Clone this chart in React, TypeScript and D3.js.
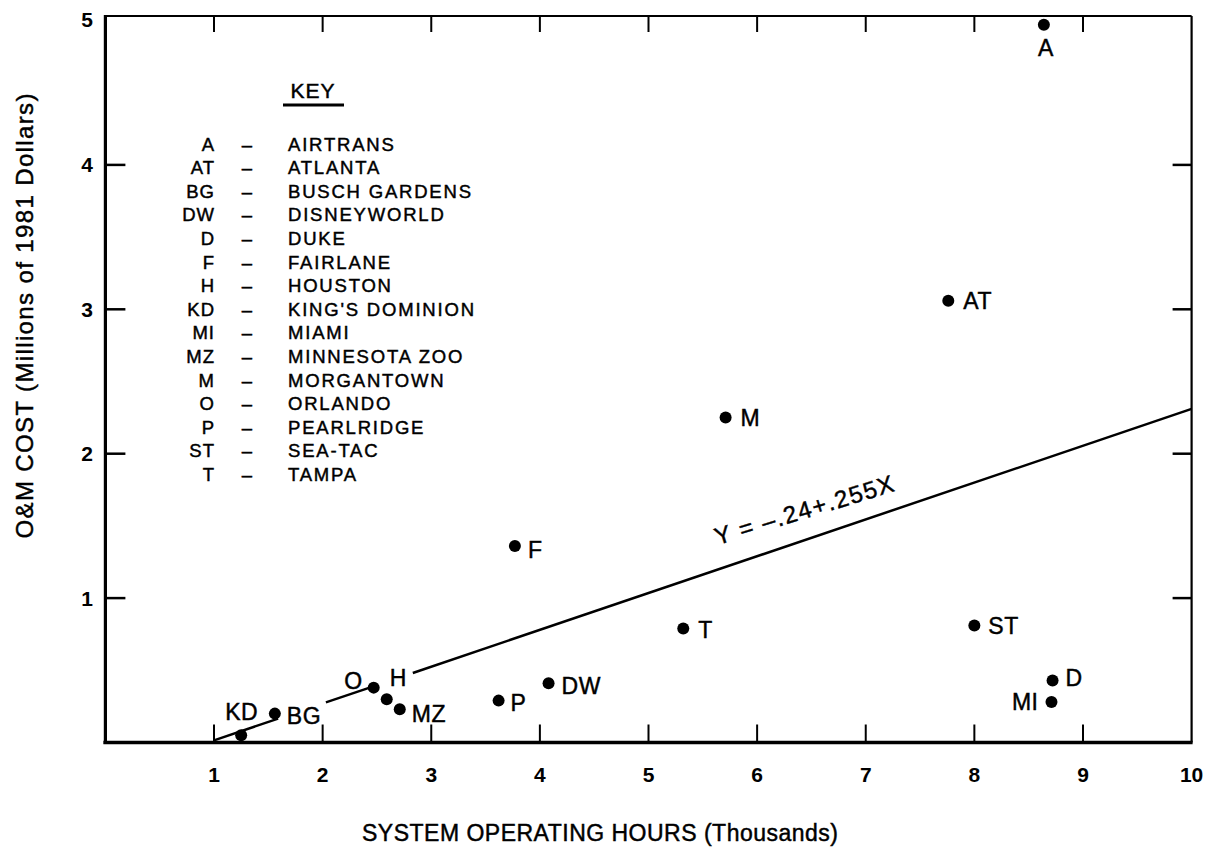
import React from 'react';
import * as d3 from 'd3';

// ---- Data ----
const siteCodes = ['A', 'AT', 'BG', 'DW', 'D', 'F', 'H', 'KD', 'MI', 'MZ', 'M', 'O', 'P', 'ST', 'T'];
const siteNames = ['AIRTRANS', 'ATLANTA', 'BUSCH GARDENS', 'DISNEYWORLD', 'DUKE', 'FAIRLANE', 'HOUSTON', "KING'S DOMINION", 'MIAMI', 'MINNESOTA ZOO', 'MORGANTOWN', 'ORLANDO', 'PEARLRIDGE', 'SEA-TAC', 'TAMPA'];
const operatingHours = [8.64, 7.76, 1.56, 4.08, 8.72, 3.77, 2.59, 1.25, 8.71, 2.71, 5.71, 2.47, 3.62, 8.0, 5.32];
const omCost = [4.97, 3.06, 0.2, 0.41, 0.43, 1.36, 0.3, 0.05, 0.28, 0.23, 2.25, 0.38, 0.29, 0.81, 0.79];
const xTicks = [1, 2, 3, 4, 5, 6, 7, 8, 9, 10];
const yTicks = [1, 2, 3, 4, 5];
const fitIntercept = -0.24;
const fitSlope = 0.255;
const fitSegments = [[1, 1.59], [2.03, 2.44], [2.83, 10]];
const equationText = 'Y = \u2013.24+.255X';
const xTitle = 'SYSTEM OPERATING HOURS (Thousands)';
const yTitle = 'O&M COST (Millions of 1981 Dollars)';

// label placement (style)
const labelPlace: Record<string, [string, number, number]> = {
  A: ['middle', 2, 23], AT: ['start', 15, 0], BG: ['start', 12, 2], DW: ['start', 13, 3],
  D: ['start', 13, -2], F: ['start', 13, 4], H: ['start', 3, -21], KD: ['end', 17, -23],
  MI: ['end', -13, 0], MZ: ['start', 12, 5], M: ['start', 15, 0], O: ['end', -11, -7],
  P: ['start', 12, 2], ST: ['start', 14, 0], T: ['start', 15, 2],
};

const FONT = '"Liberation Sans", Arial, Helvetica, sans-serif';
const heavy = { stroke: '#000', strokeWidth: 0.45 };

export default function App() {
  const W = 1212, H = 848;
  const x = d3.scaleLinear().domain([0, 10]).range([105.4, 1191.6]);
  const y = d3.scaleLinear().domain([0, 5]).range([742.5, 20.5]);
  const x0 = x(0), x1 = x(10), yb = y(0), yt = 16;

  const line = d3.line<number>().x((d) => x(d)).y((d) => y(fitIntercept + fitSlope * d));

  const eqX = 804, eqY = 510;

  return (
    <svg width={W} height={H} style={{ position: 'absolute', left: 0, top: 0, background: '#fff' }} fontFamily={FONT}>
      <rect x={0} y={0} width={W} height={H} fill="#fff" />
      {/* frame */}
      <line x1={x0} y1={yt} x2={x1} y2={yt} stroke="#000" strokeWidth={2.2} />
      <line x1={x1} y1={yt} x2={x1} y2={yb} stroke="#000" strokeWidth={2.2} />
      <line x1={x0} y1={yt - 1} x2={x0} y2={yb + 1.5} stroke="#000" strokeWidth={3.2} />
      <line x1={x0 - 2} y1={yb} x2={x1 + 1} y2={yb} stroke="#000" strokeWidth={3.5} />

      {/* x ticks */}
      {xTicks.map((t) => (
        <g key={'xt' + t}>
          {t < 10 && <line x1={x(t)} x2={x(t)} y1={yb} y2={yb - 18} stroke="#000" strokeWidth={2} />}
          {t < 10 && <line x1={x(t)} x2={x(t)} y1={yt} y2={yt + 16} stroke="#000" strokeWidth={2} />}
          <text x={x(t)} y={774} textAnchor="middle" dominantBaseline="central" fontSize={21} fontWeight="bold">
            {t}
          </text>
        </g>
      ))}
      {/* y ticks */}
      {yTicks.map((t) => (
        <g key={'yt' + t}>
          {t < 5 && <line x1={x0} x2={x0 + 20} y1={y(t)} y2={y(t)} stroke="#000" strokeWidth={2.5} />}
          {t < 5 && <line x1={x1} x2={x1 - 19} y1={y(t)} y2={y(t)} stroke="#000" strokeWidth={2.5} />}
          <text x={93} y={t === 5 ? 19 : y(t)} textAnchor="end" dominantBaseline="central" fontSize={21} fontWeight="bold">
            {t}
          </text>
        </g>
      ))}

      {/* regression line */}
      {fitSegments.map((s, i) => (
        <path key={'seg' + i} d={line(s) || ''} fill="none" stroke="#000" strokeWidth={2.5} />
      ))}
      <text
        x={eqX}
        y={eqY}
        transform={`rotate(-17 ${eqX} ${eqY})`}
        textAnchor="middle"
        dominantBaseline="central"
        fontSize={24}
        textLength={186}
        lengthAdjust="spacing"
        {...heavy}
      >
        {equationText}
      </text>

      {/* points */}
      {siteCodes.map((c, i) => {
        const [anchor, dx, dy] = labelPlace[c];
        const cx = x(operatingHours[i]);
        const cy = y(omCost[i]);
        return (
          <g key={'p' + c}>
            <circle cx={cx} cy={cy} r={6} fill="#000" />
            <text x={cx + dx} y={cy + dy} textAnchor={anchor} dominantBaseline="central" fontSize={23} letterSpacing={0.5} {...heavy}>
              {c}
            </text>
          </g>
        );
      })}

      {/* key */}
      <text x={313} y={90} textAnchor="middle" dominantBaseline="central" fontSize={21} letterSpacing={1} {...heavy}>
        KEY
      </text>
      <line x1={283} x2={344} y1={105} y2={105} stroke="#000" strokeWidth={3} />
      {siteCodes.map((c, i) => {
        const ry = 144 + i * 23.6;
        return (
          <g key={'k' + c}>
            <text x={215} y={ry} textAnchor="end" dominantBaseline="central" fontSize={18.5} letterSpacing={1} {...heavy}>
              {c}
            </text>
            <text x={247} y={ry} textAnchor="middle" dominantBaseline="central" fontSize={18.5} {...heavy}>
              {'\u2013'}
            </text>
            <text x={288} y={ry} textAnchor="start" dominantBaseline="central" fontSize={18.5} letterSpacing={1.8} {...heavy}>
              {siteNames[i]}
            </text>
          </g>
        );
      })}

      {/* axis titles */}
      <text x={600} y={833} textAnchor="middle" dominantBaseline="central" fontSize={23} textLength={476} lengthAdjust="spacing" {...heavy}>
        {xTitle}
      </text>
      <text
        x={24}
        y={316}
        transform="rotate(-90 24 316)"
        textAnchor="middle"
        dominantBaseline="central"
        fontSize={24}
        textLength={445}
        lengthAdjust="spacing"
        {...heavy}
      >
        {yTitle}
      </text>
    </svg>
  );
}
